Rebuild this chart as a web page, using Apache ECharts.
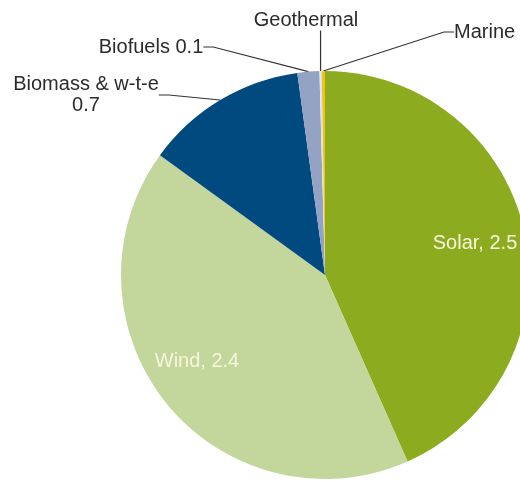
<!DOCTYPE html>
<html>
<head>
<meta charset="utf-8">
<script src="https://cdn.jsdelivr.net/npm/echarts@6/dist/echarts.min.js"></script>
<style>
html,body{margin:0;padding:0;background:#fff;}
#chart{width:520px;height:481px;}
</style>
</head>
<body>
<div id="chart"></div>
<script>
const categories = ['Solar', 'Wind', 'Biomass & w-t-e', 'Biofuels', 'Geothermal', 'Marine'];
const values = [2.5, 2.4, 0.74, 0.1, 0.01, 0.015];
const showValue = [true, true, true, true, false, false];
const separators = [', ', ', ', '\n', ' ', '', ''];
const colors = ['#8dab1e', '#c3d69b', '#004a80', '#94a3c3', '#dfe6ee', '#f2c21b'];

// label anchor spots (text placement only)
const labelSpots = [
  {x: 475, y: 243, align: 'center'},
  {x: 197, y: 361, align: 'center'},
  {x: 86, y: 95, align: 'center'},
  {x: 151, y: 47, align: 'center'},
  {x: 306, y: 20, align: 'center'},
  {x: 454, y: 32, align: 'left'}
];

const data = categories.map((name, i) => {
  const inside = i < 2;
  return {
    name: name,
    value: values[i],
    itemStyle: {color: colors[i]},
    label: {
      show: true,
      position: inside ? 'inside' : 'outside',
      color: inside ? '#f6f6dc' : '#2b2b2b',
      formatter: () => showValue[i] ? name + separators[i] + values[i].toFixed(1) : name
    },
    labelLine: {show: !inside}
  };
});

const chart = echarts.init(document.getElementById('chart'), null, {renderer: 'canvas'});
chart.setOption({
  backgroundColor: '#ffffff',
  animation: false,
  series: [{
    type: 'pie',
    center: [325, 275],
    radius: 204,
    startAngle: 90,
    clockwise: true,
    avoidLabelOverlap: false,
    label: {
      fontFamily: '"Liberation Sans", Arial, sans-serif',
      fontSize: 20,
      lineHeight: 21
    },
    labelLine: {
      length: 15,
      length2: 10,
      lineStyle: {color: '#333333', width: 1.2}
    },
    labelLayout: function (params) {
      const i = params.dataIndex;
      const s = labelSpots[i];
      const out = {x: s.x, y: s.y, align: s.align, verticalAlign: 'middle'};
      if (i === 4 && params.labelLinePoints) {
        // straight vertical leader from the slice edge up to the label
        const p0 = params.labelLinePoints[0];
        const top = s.y + params.labelRect.height / 2;
        out.labelLinePoints = [[p0[0], p0[1]], [p0[0], top], [p0[0], top]];
      }
      return out;
    },
    data: data
  }]
});
</script>
</body>
</html>
